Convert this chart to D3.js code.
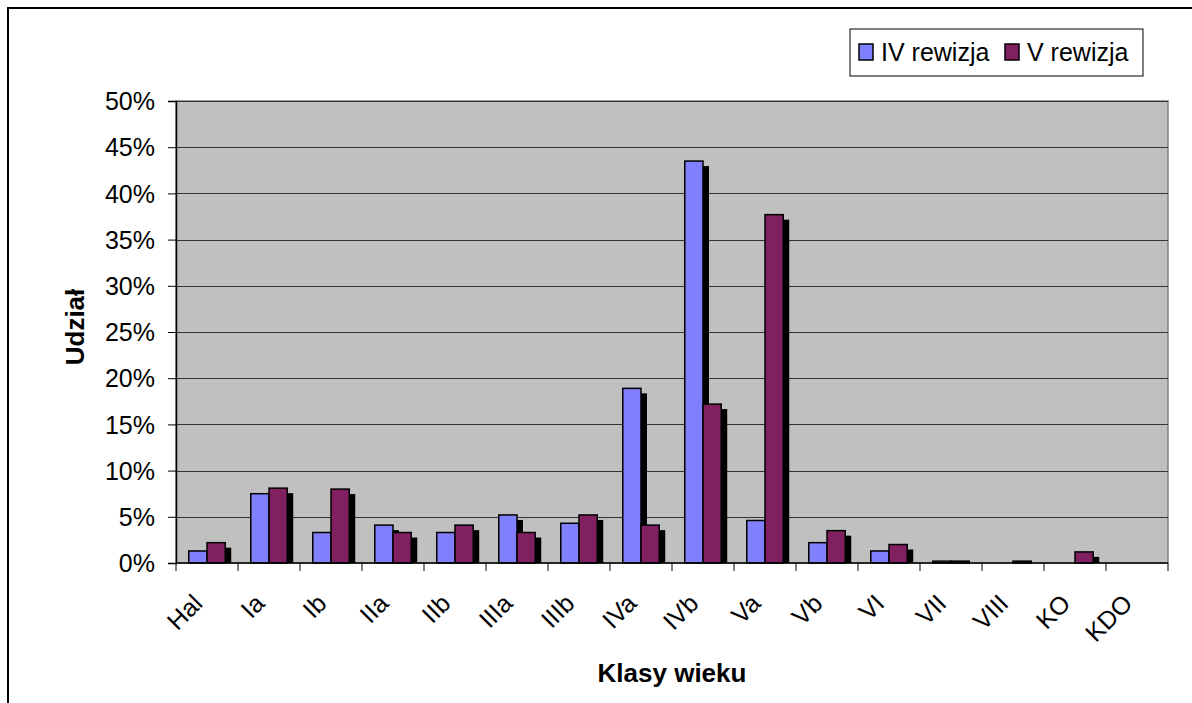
<!DOCTYPE html>
<html>
<head>
<meta charset="utf-8">
<script src="https://cdn.jsdelivr.net/npm/d3@7"></script>
<style>
  body { margin: 0; background: #fff; }
  text { font-family: "Liberation Sans", Arial, sans-serif; }
</style>
</head>
<body>
<svg id="chart" width="1192" height="703"></svg>
<script>
// age classes and shares (%) for both revisions
var classes = ["Hal", "Ia", "Ib", "IIa", "IIb", "IIIa", "IIIb", "IVa", "IVb", "Va", "Vb", "VI", "VII", "VIII", "KO", "KDO"];
var seriesNames = ["IV rewizja", "V rewizja"];
var rev4 = [1.3, 7.5, 3.3, 4.1, 3.3, 5.2, 4.3, 18.9, 43.5, 4.6, 2.2, 1.3, 0.2, 0, 0, 0];
var rev5 = [2.2, 8.1, 8.0, 3.3, 4.1, 3.3, 5.2, 4.1, 17.2, 37.7, 3.5, 2.0, 0.2, 0.2, 1.2, 0];
var yTicks = [0, 5, 10, 15, 20, 25, 30, 35, 40, 45, 50];
var colors = ["#8080ff", "#802060"];

var svg = d3.select("#chart");
var margin = {left: 176, top: 101, right: 1168, bottom: 563};

// outer chart frame (right and bottom edges fall outside the picture)
svg.append("rect")
    .attr("x", 8).attr("y", 8)
    .attr("width", 1200).attr("height", 720)
    .attr("fill", "#fff")
    .attr("stroke", "#000").attr("stroke-width", 2);

var x = d3.scaleBand().domain(classes).range([margin.left, margin.right]);
var x1 = d3.scaleBand().domain(seriesNames).range([0, x.bandwidth()]).paddingOuter(0.7);
var y = d3.scaleLinear().domain([0, 50]).range([margin.bottom, margin.top]);

// plot area
svg.append("rect")
    .attr("x", margin.left).attr("y", margin.top)
    .attr("width", margin.right - margin.left)
    .attr("height", margin.bottom - margin.top)
    .attr("fill", "#c0c0c0")
    .attr("stroke", "#808080").attr("stroke-width", 1.5);

// gridlines
svg.append("g").selectAll("line")
  .data(yTicks.filter(function(d){ return d > 0; }))
  .enter().append("line")
    .attr("x1", margin.left).attr("x2", margin.right)
    .attr("y1", function(d){ return Math.round(y(d)) + 0.5; })
    .attr("y2", function(d){ return Math.round(y(d)) + 0.5; })
    .attr("stroke", "#333").attr("stroke-width", 1.2);

var data = classes.map(function(c, i){
  return {cls: c, vals: [{s: seriesNames[0], v: rev4[i]}, {s: seriesNames[1], v: rev5[i]}]};
});

var groups = svg.append("g").selectAll("g")
  .data(data).enter().append("g")
    .attr("transform", function(d){ return "translate(" + x(d.cls) + ",0)"; });

// shadows first
groups.selectAll("rect.shadow")
  .data(function(d){ return d.vals.filter(function(e){ return y(0) - y(e.v) > 5; }); })
  .enter().append("rect")
    .attr("class", "shadow")
    .attr("x", function(d){ return x1(d.s) + 6; })
    .attr("y", function(d){ return y(d.v) + 5; })
    .attr("width", x1.bandwidth())
    .attr("height", function(d){ return y(0) - y(d.v) - 5; })
    .attr("fill", "#000");

groups.selectAll("rect.bar")
  .data(function(d){ return d.vals.filter(function(e){ return e.v > 0; }); })
  .enter().append("rect")
    .attr("class", "bar")
    .attr("x", function(d){ return x1(d.s); })
    .attr("y", function(d){ return y(d.v); })
    .attr("width", x1.bandwidth())
    .attr("height", function(d){ return y(0) - y(d.v); })
    .attr("fill", function(d){ return colors[seriesNames.indexOf(d.s)]; })
    .attr("stroke", "#000").attr("stroke-width", 1.5);

// y axis
var yAxis = svg.append("g")
    .attr("transform", "translate(" + margin.left + ",0)")
    .call(d3.axisLeft(y).tickValues(yTicks).tickSize(8).tickPadding(13)
      .tickFormat(function(d){ return d + "%"; }));
yAxis.select(".domain").attr("stroke", "#000").attr("stroke-width", 1.5);
yAxis.selectAll(".tick line").attr("stroke", "#000");
yAxis.selectAll("text").attr("font-size", 25).attr("fill", "#000")
    .attr("dy", "0.35em")
    .style("font-family", "Liberation Sans, Arial, sans-serif");

// x axis with ticks at category boundaries
var xAxisG = svg.append("g")
    .attr("transform", "translate(0," + margin.bottom + ")");
xAxisG.append("line")
    .attr("x1", margin.left).attr("x2", margin.right)
    .attr("stroke", "#000").attr("stroke-width", 1.5);
xAxisG.selectAll("line.tk")
  .data(classes.concat(["end"]))
  .enter().append("line")
    .attr("class", "tk")
    .attr("x1", function(d, i){ return margin.left + i * x.bandwidth(); })
    .attr("x2", function(d, i){ return margin.left + i * x.bandwidth(); })
    .attr("y1", 0).attr("y2", 8)
    .attr("stroke", "#000");
xAxisG.selectAll("text")
  .data(classes).enter().append("text")
    .attr("transform", function(d){
      return "translate(" + (x(d) + x.bandwidth() / 2 - 3) + ",42) rotate(-45)";
    })
    .attr("text-anchor", "end")
    .attr("font-size", 25)
    .text(function(d){ return d; });

// axis titles
svg.append("text")
    .attr("transform", "translate(84,327) rotate(-90)")
    .attr("text-anchor", "middle")
    .attr("font-size", 26).attr("font-weight", "bold")
    .text("Udział");
svg.append("text")
    .attr("x", 672).attr("y", 682)
    .attr("text-anchor", "middle")
    .attr("font-size", 26).attr("font-weight", "bold")
    .text("Klasy wieku");

// legend
var lg = svg.append("g");
lg.append("rect")
    .attr("x", 850).attr("y", 29).attr("width", 293).attr("height", 47)
    .attr("fill", "#fff").attr("stroke", "#000").attr("stroke-width", 1);
var lgX = [859, 1005];
seriesNames.forEach(function(s, i){
  lg.append("rect")
    .attr("x", lgX[i]).attr("y", 44).attr("width", 14).attr("height", 16)
    .attr("fill", colors[i]).attr("stroke", "#000").attr("stroke-width", 1.5);
  lg.append("text")
    .attr("x", lgX[i] + 22).attr("y", 61)
    .attr("font-size", 25)
    .text(s);
});
</script>
</body>
</html>
